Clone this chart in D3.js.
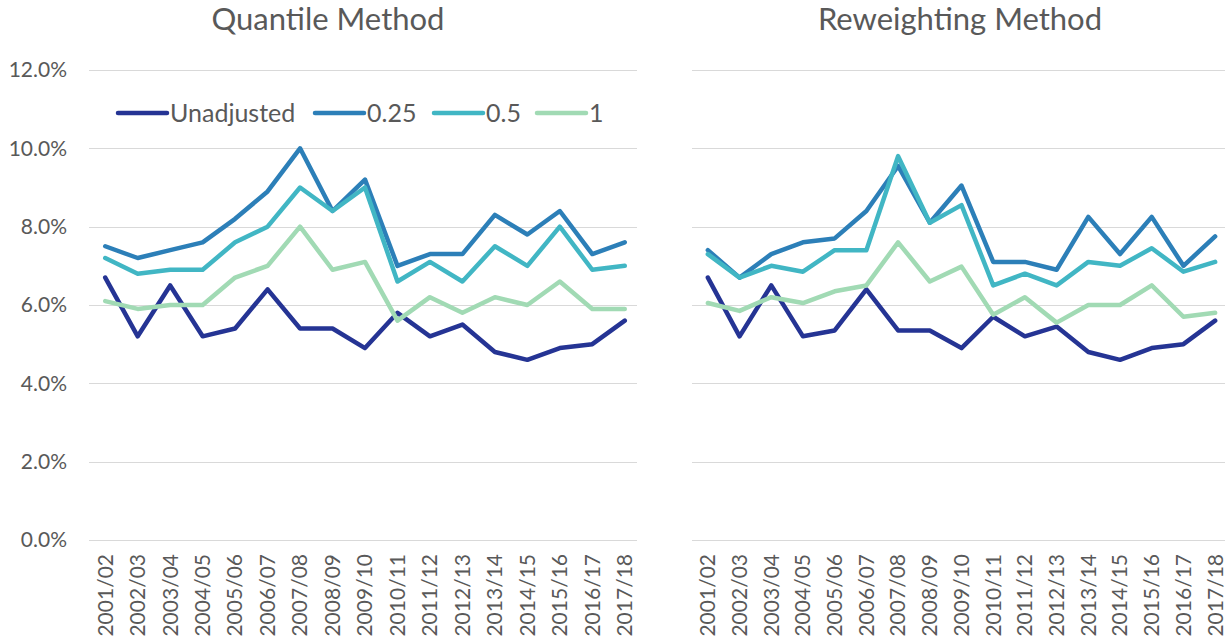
<!DOCTYPE html>
<meta charset="utf-8">
<title>Quantile vs Reweighting</title>
<style>
  body { margin: 0; background: #fff; font-family: "Lato", "Liberation Sans", sans-serif; }
  .grid line { stroke: #d9d9d9; stroke-width: 1; }
  .tick text { fill: #595959; }
  path.series { fill: none; stroke-width: 4.5; stroke-linejoin: round; stroke-linecap: round; }
</style>
<body>
<script src="https://d3js.org/d3.v7.min.js"></script>
<script>
  var years = ["2001/02","2002/03","2003/04","2004/05","2005/06","2006/07","2007/08","2008/09",
               "2009/10","2010/11","2011/12","2012/13","2013/14","2014/15","2015/16","2016/17","2017/18"];
  var seriesNames = ["Unadjusted", "0.25", "0.5", "1"];
  var colors = ["#253494", "#2c7fb8", "#41b6c4", "#a1dab4"];
  var yTicks = [0, 2, 4, 6, 8, 10, 12];

  // Quantile method (%)
  var qUnadjusted = [6.7, 5.2, 6.5, 5.2, 5.4, 6.4, 5.4, 5.4, 4.9, 5.8, 5.2, 5.5, 4.8, 4.6, 4.9, 5.0, 5.6];
  var q025 = [7.5, 7.2, 7.4, 7.6, 8.2, 8.9, 10.0, 8.4, 9.2, 7.0, 7.3, 7.3, 8.3, 7.8, 8.4, 7.3, 7.6];
  var q05  = [7.2, 6.8, 6.9, 6.9, 7.6, 8.0, 9.0, 8.4, 9.0, 6.6, 7.1, 6.6, 7.5, 7.0, 8.0, 6.9, 7.0];
  var q1   = [6.1, 5.9, 6.0, 6.0, 6.7, 7.0, 8.0, 6.9, 7.1, 5.6, 6.2, 5.8, 6.2, 6.0, 6.6, 5.9, 5.9];

  // Reweighting method (%)
  var rUnadjusted = [6.7, 5.2, 6.5, 5.2, 5.35, 6.4, 5.35, 5.35, 4.9, 5.7, 5.2, 5.45, 4.8, 4.6, 4.9, 5.0, 5.6];
  var r025 = [7.4, 6.7, 7.3, 7.6, 7.7, 8.4, 9.55, 8.1, 9.05, 7.1, 7.1, 6.9, 8.25, 7.3, 8.25, 7.0, 7.75];
  var r05  = [7.3, 6.7, 7.0, 6.85, 7.4, 7.4, 9.8, 8.1, 8.55, 6.5, 6.8, 6.5, 7.1, 7.0, 7.45, 6.85, 7.1];
  var r1   = [6.05, 5.85, 6.2, 6.05, 6.35, 6.5, 7.6, 6.6, 6.98, 5.75, 6.2, 5.55, 6.0, 6.0, 6.5, 5.7, 5.8];

  var W = 1225, H = 644;
  var svg = d3.select("body").append("svg").attr("width", W).attr("height", H);

  var y = d3.scaleLinear().domain([0, 12]).range([540, 70]);

  function drawPanel(opts) {
    var x = d3.scaleBand().domain(years).range(opts.range);
    var g = svg.append("g");

    g.append("text")
      .attr("x", opts.titleX).attr("y", 30)
      .attr("text-anchor", "middle")
      .style("font-size", "31px").style("fill", "#595959")
      .text(opts.title);

    var grid = g.append("g").attr("class", "grid");
    grid.selectAll("line").data(yTicks).join("line")
      .attr("x1", opts.gridStart).attr("x2", opts.gridEnd)
      .attr("y1", function(d) { return Math.round(y(d)) + 0.5; })
      .attr("y2", function(d) { return Math.round(y(d)) + 0.5; });

    if (opts.yAxis) {
      var yAxis = d3.axisLeft(y).tickValues(yTicks)
        .tickFormat(function(d) { return d.toFixed(1) + "%"; })
        .tickSize(0).tickPadding(0);
      var ya = g.append("g").attr("transform", "translate(67,0)").call(yAxis);
      ya.select(".domain").remove();
      ya.selectAll("text").style("font-size", "21px").style("font-family", "Lato, 'Liberation Sans', sans-serif");
    }

    var xAxis = d3.axisBottom(x).tickSize(0).tickPadding(0);
    var xa = g.append("g").attr("transform", "translate(0,554)").call(xAxis);
    xa.select(".domain").remove();
    xa.selectAll("text")
      .attr("transform", "rotate(-90)")
      .attr("text-anchor", "end")
      .attr("x", 0).attr("y", 0).attr("dy", "0.35em")
      .style("font-size", "21px").style("font-family", "Lato, 'Liberation Sans', sans-serif");

    var line = d3.line()
      .x(function(d, i) { return x(years[i]) + x.bandwidth() / 2; })
      .y(function(d) { return y(d); });

    g.selectAll("path.series").data(opts.series).join("path")
      .attr("class", "series")
      .attr("stroke", function(d, i) { return colors[i]; })
      .attr("d", line);

    if (opts.legend) {
      var legendX = [118, 315, 434, 537];
      var lg = g.append("g");
      seriesNames.forEach(function(name, i) {
        lg.append("line")
          .attr("x1", legendX[i]).attr("x2", legendX[i] + 49)
          .attr("y1", 113).attr("y2", 113)
          .attr("stroke", colors[i]).attr("stroke-width", 4.5).attr("stroke-linecap", "round");
        lg.append("text")
          .attr("x", legendX[i] + 52).attr("y", 113).attr("dy", "0.36em")
          .style("font-size", "25px").style("fill", "#595959")
          .text(name);
      });
    }
  }

  drawPanel({
    title: "Quantile Method", titleX: 328, range: [89, 641], gridStart: 89, gridEnd: 637,
    yAxis: true, legend: true,
    series: [qUnadjusted, q025, q05, q1]
  });
  drawPanel({
    title: "Reweighting Method", titleX: 960, range: [692, 1231], gridStart: 692, gridEnd: 1225,
    yAxis: false, legend: false,
    series: [rUnadjusted, r025, r05, r1]
  });
</script>
</body>
